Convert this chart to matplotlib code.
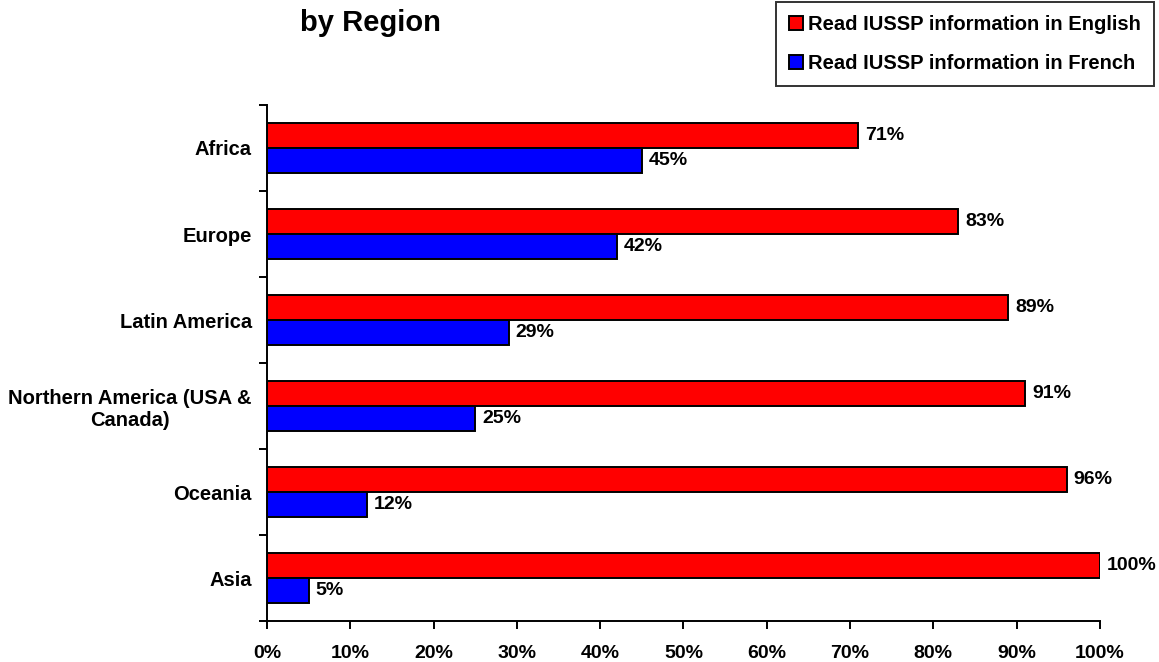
import numpy as np
import matplotlib.pyplot as plt
from matplotlib.ticker import FixedLocator, PercentFormatter

plt.rcParams['font.family'] = ['Liberation Sans', 'DejaVu Sans']
plt.rcParams['font.weight'] = 'bold'

regions = ["Africa", "Europe", "Latin America", "Northern America (USA &\nCanada)", "Oceania", "Asia"]
english = [71, 83, 89, 91, 96, 100]
french = [45, 42, 29, 25, 12, 5]

fig = plt.figure(figsize=(11.59, 6.62), dpi=100)
ax = fig.add_axes([0.2304, 0.0619, 0.949 - 0.2304, 0.8414 - 0.0619])

n = len(regions)
pos = np.arange(n)[::-1]  # Africa at top
h = 0.29
ax.barh(pos + h / 2, english, height=h, color='#ff0000', edgecolor='black', linewidth=1.4,
        label='Read IUSSP information in English')
ax.barh(pos - h / 2, french, height=h, color='#0000ff', edgecolor='black', linewidth=1.4,
        label='Read IUSSP information in French')

for p, e, f in zip(pos, english, french):
    ax.annotate(f"{e}%", (e, p + h / 2), xytext=(5, 0), textcoords='offset points',
                va='center', ha='left', fontsize=14, fontweight='bold', annotation_clip=False)
    ax.annotate(f"{f}%", (f, p - h / 2), xytext=(5, 0), textcoords='offset points',
                va='center', ha='left', fontsize=14, fontweight='bold', annotation_clip=False)

ax.set_xlim(0, 100)
ax.set_ylim(-0.5, n - 0.5)
ax.set_xticks(np.arange(0, 101, 10))
ax.xaxis.set_major_formatter(PercentFormatter(decimals=0))
ax.set_yticks(pos)
ax.set_yticklabels(regions, fontsize=14.5, fontweight='bold', ha='right', multialignment='center')
ax.tick_params(axis='y', length=0, pad=11)
ax.yaxis.set_minor_locator(FixedLocator(np.arange(-0.5, n, 1.0)))
ax.tick_params(axis='y', which='minor', length=6, width=1.4, direction='out')
ax.tick_params(axis='x', length=6, width=1.4, direction='out', labelsize=14, pad=11)
for lab in ax.get_xticklabels():
    lab.set_fontweight('bold')

for s in ['top', 'right']:
    ax.spines[s].set_visible(False)
for s in ['left', 'bottom']:
    ax.spines[s].set_linewidth(1.4)

fig.text(0.259, 0.966, "by Region", fontsize=21, fontweight='bold', ha='left', va='center')

leg = fig.legend(loc='upper right', bbox_to_anchor=(0.996, 0.997), fontsize=14.5, frameon=True,
                 fancybox=False, edgecolor='black', handlelength=0.7, handleheight=0.7,
                 handletextpad=0.25, borderpad=0.65, labelspacing=1.0, borderaxespad=0)
leg.get_frame().set_linewidth(1.4)
for t in leg.get_texts():
    t.set_fontweight('bold')

fig.savefig('out.png', dpi=100)
